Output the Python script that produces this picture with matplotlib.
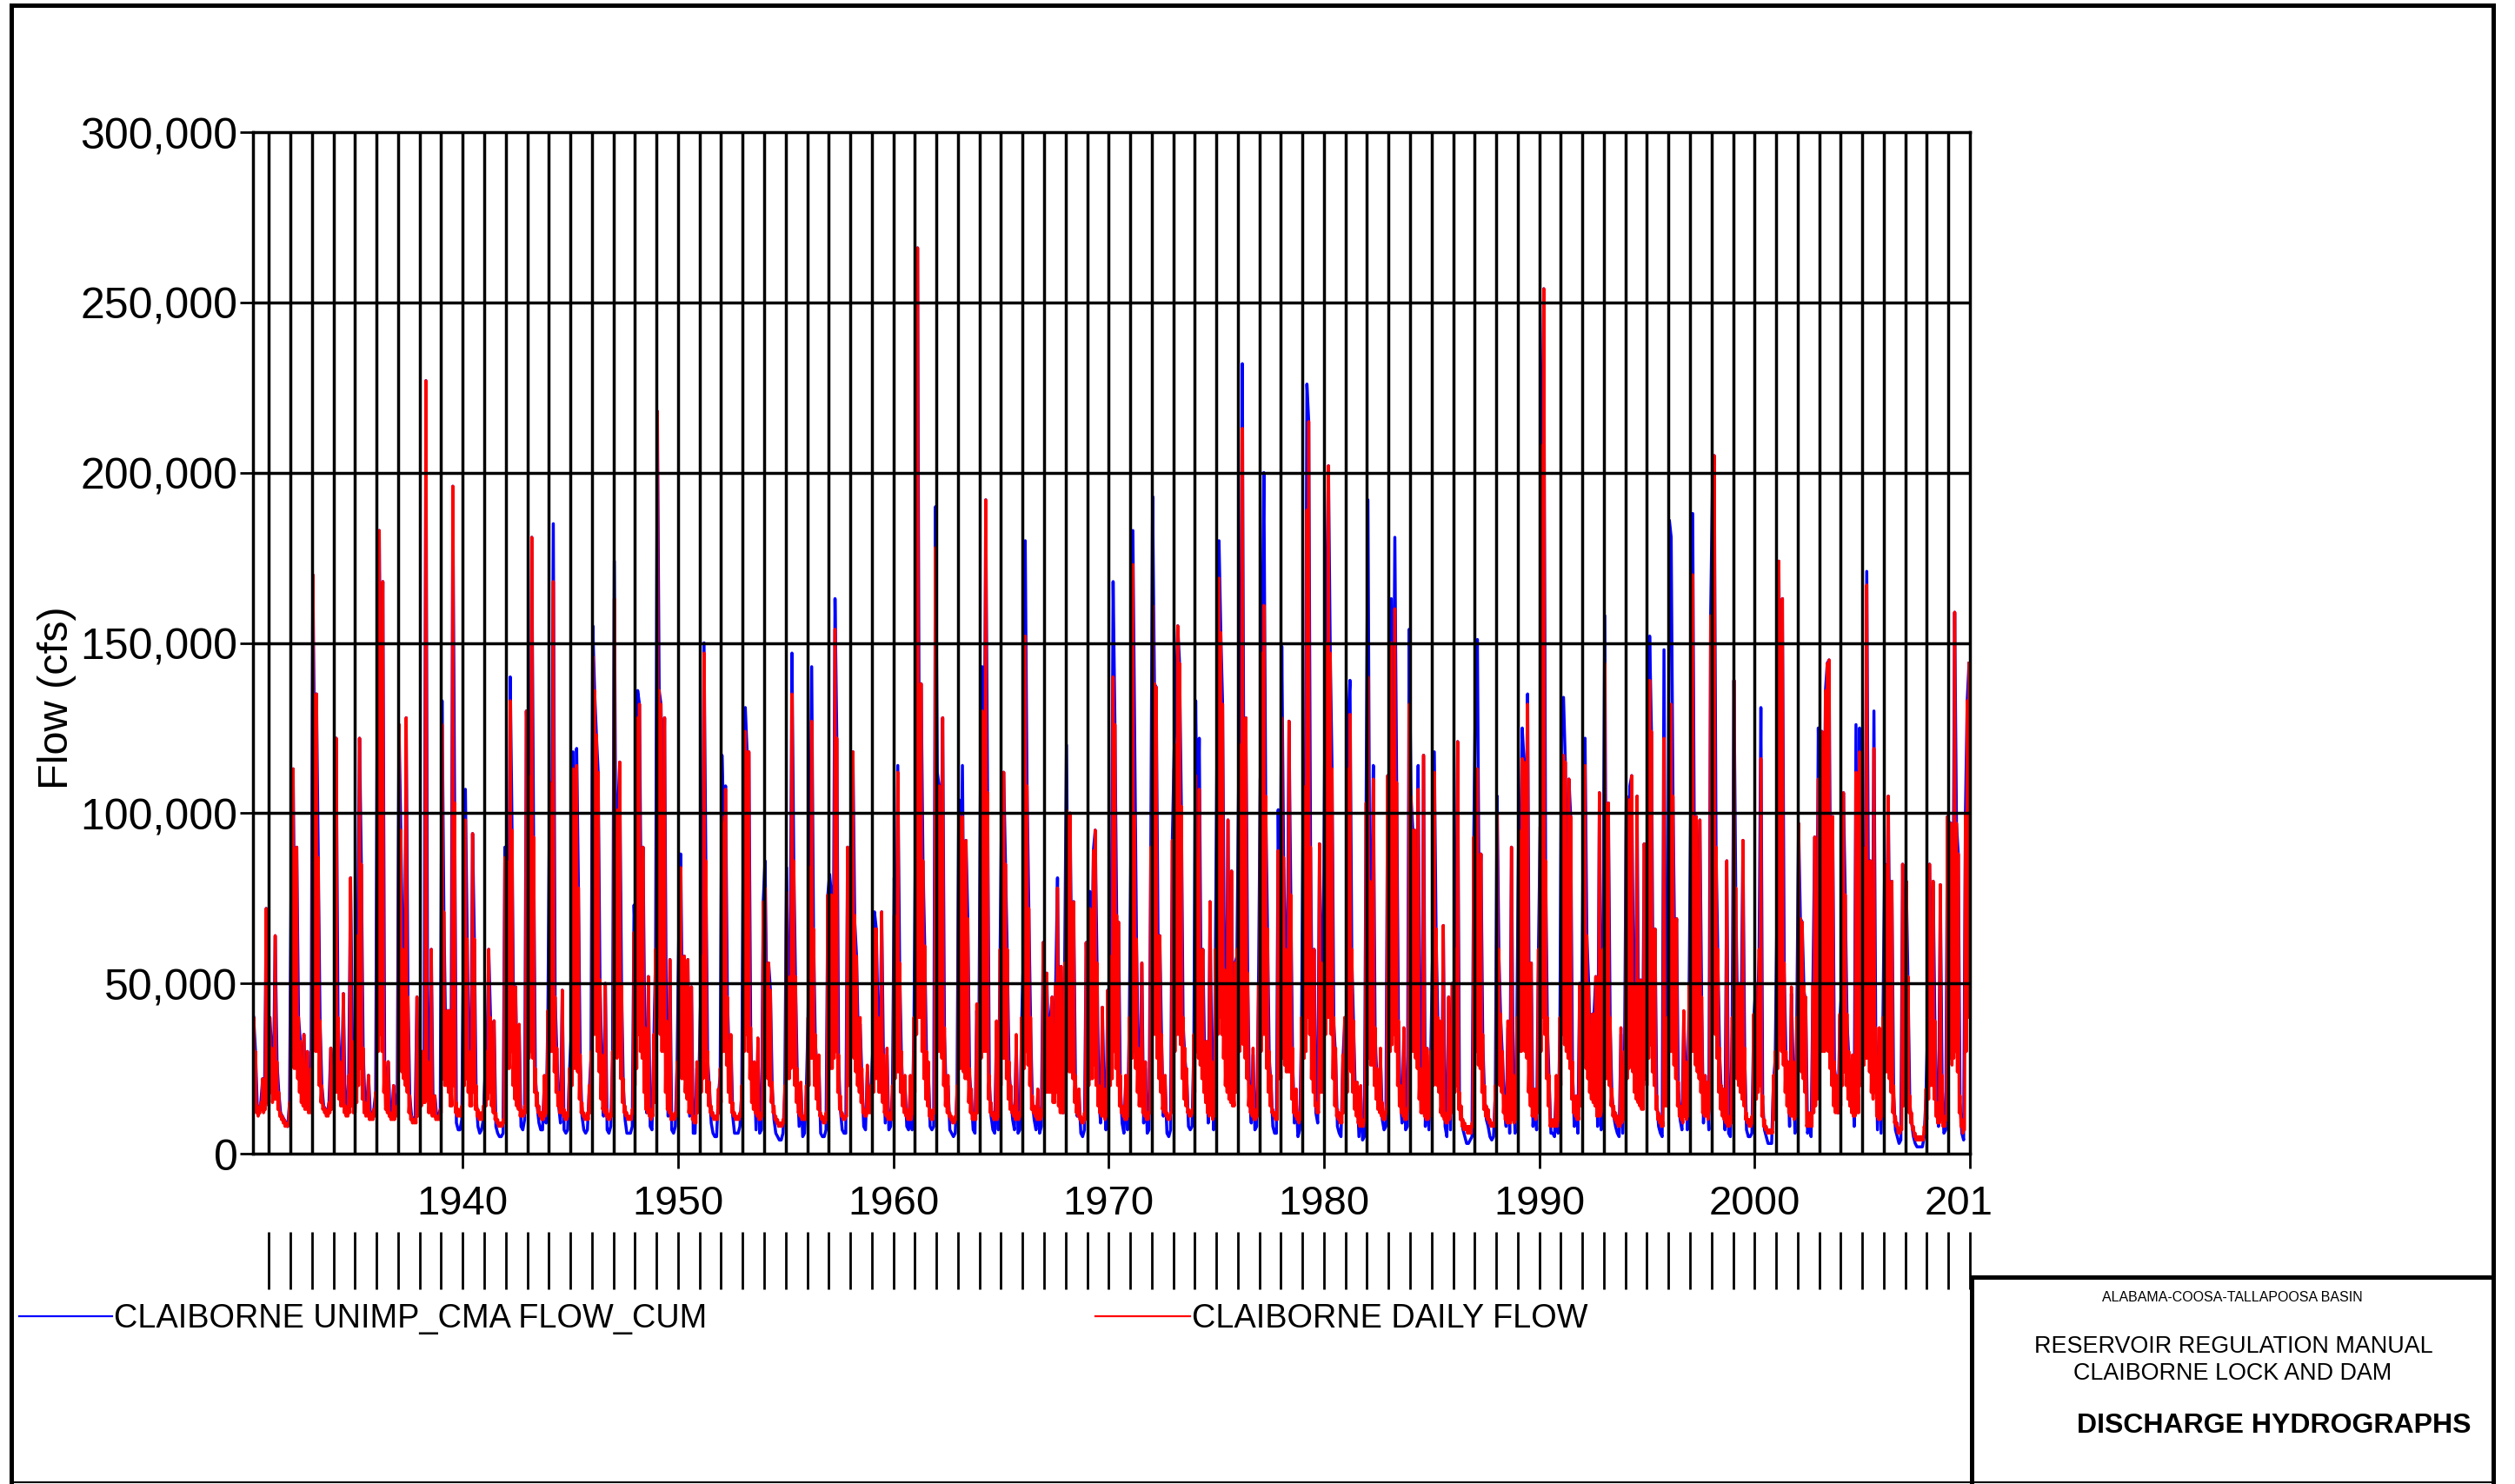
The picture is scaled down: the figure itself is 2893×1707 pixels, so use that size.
import matplotlib
matplotlib.use("Agg")
import matplotlib.pyplot as plt
import numpy as np
from matplotlib.transforms import Bbox, TransformedBbox
from matplotlib.lines import Line2D

plt.rcParams['font.family'] = ['Liberation Sans', 'DejaVu Sans']

# ---------------- data, thousands of cfs ----------------
first_year = 1930
first_month_index = 3  # record begins in April 1930

# monthly peak of CLAIBORNE DAILY FLOW
red_peak_kcfs = [
    [40, 30, 14, 12, 15, 22, 13, 72, 20],
    [40, 31, 20, 64, 27, 18, 12, 11, 10, 9, 8, 15],
    [88, 113, 55, 90, 40, 33, 20, 35, 15, 30, 14, 25],
    [170, 115, 135, 87, 39, 20, 14, 13, 12, 15, 31, 18],
    [31, 122, 40, 27, 20, 47, 14, 12, 23, 81, 33, 14],
    [20, 64, 122, 85, 31, 15, 13, 23, 12, 11, 13, 18],
    [146, 183, 115, 168, 27, 15, 27, 12, 11, 20, 12, 14],
    [126, 95, 60, 40, 128, 46, 17, 11, 10, 10, 46, 15],
    [25, 30, 27, 227, 27, 15, 60, 13, 17, 11, 11, 13],
    [126, 71, 35, 42, 42, 20, 196, 103, 15, 13, 13, 14],
    [63, 98, 63, 30, 20, 94, 63, 20, 13, 12, 12, 14],
    [25, 30, 60, 40, 20, 39, 12, 10, 9, 9, 10, 87],
    [86, 50, 133, 95, 30, 49, 20, 38, 13, 12, 14, 130],
    [111, 60, 181, 93, 25, 18, 14, 12, 12, 23, 13, 42],
    [109, 76, 168, 46, 31, 18, 14, 48, 13, 12, 12, 25],
    [35, 113, 60, 114, 78, 29, 15, 12, 11, 12, 20, 30],
    [146, 136, 123, 112, 51, 29, 15, 50, 13, 11, 12, 30],
    [163, 70, 101, 115, 50, 22, 14, 12, 11, 11, 13, 65],
    [60, 128, 132, 70, 90, 37, 16, 52, 13, 12, 35, 60],
    [218, 136, 132, 97, 128, 39, 15, 57, 12, 11, 12, 27],
    [67, 84, 40, 58, 25, 57, 15, 49, 11, 10, 27, 20],
    [43, 58, 147, 86, 30, 21, 14, 12, 11, 11, 19, 25],
    [99, 97, 107, 46, 30, 35, 15, 12, 11, 11, 12, 20],
    [100, 124, 118, 118, 37, 20, 27, 13, 34, 11, 12, 74],
    [78, 45, 56, 48, 21, 14, 11, 10, 9, 9, 10, 20],
    [77, 40, 52, 135, 86, 52, 25, 13, 21, 11, 11, 20],
    [40, 84, 127, 66, 35, 27, 29, 12, 11, 10, 12, 76],
    [76, 76, 50, 154, 122, 29, 17, 12, 11, 11, 90, 40],
    [91, 118, 70, 58, 35, 40, 25, 13, 12, 26, 17, 20],
    [30, 66, 66, 40, 30, 71, 29, 14, 31, 12, 12, 20],
    [70, 50, 112, 56, 30, 20, 23, 13, 12, 23, 12, 40],
    [103, 266, 100, 138, 86, 61, 30, 27, 13, 12, 13, 178],
    [97, 108, 80, 128, 37, 20, 23, 12, 11, 10, 11, 20],
    [100, 60, 99, 50, 92, 69, 25, 19, 12, 11, 44, 20],
    [80, 130, 90, 192, 106, 23, 15, 12, 11, 39, 12, 60],
    [84, 112, 85, 60, 27, 20, 14, 12, 35, 11, 12, 40],
    [60, 152, 108, 72, 40, 17, 14, 12, 19, 12, 13, 62],
    [40, 53, 30, 40, 46, 25, 50, 78, 20, 55, 15, 56],
    [101, 60, 100, 50, 74, 23, 15, 19, 11, 10, 12, 62],
    [40, 72, 50, 89, 95, 56, 20, 14, 43, 19, 12, 48],
    [45, 58, 140, 126, 70, 68, 23, 14, 12, 23, 12, 40],
    [95, 173, 100, 63, 31, 20, 56, 14, 27, 12, 12, 90],
    [161, 138, 137, 64, 64, 35, 15, 23, 12, 11, 12, 92],
    [113, 120, 155, 144, 102, 40, 31, 25, 13, 12, 13, 35],
    [111, 86, 107, 50, 60, 30, 33, 14, 74, 27, 12, 60],
    [127, 169, 153, 132, 54, 30, 98, 20, 83, 18, 56, 60],
    [112, 120, 213, 80, 128, 53, 20, 14, 31, 12, 13, 50],
    [110, 147, 161, 105, 66, 30, 23, 13, 12, 12, 89, 50],
    [128, 87, 60, 50, 127, 76, 31, 14, 19, 11, 12, 40],
    [108, 80, 189, 215, 90, 40, 60, 15, 13, 91, 56, 50],
    [125, 150, 202, 147, 113, 40, 31, 13, 12, 11, 29, 40],
    [40, 113, 129, 60, 39, 20, 21, 10, 20, 9, 10, 103],
    [140, 80, 66, 110, 37, 25, 18, 31, 15, 12, 12, 111],
    [90, 150, 100, 160, 109, 39, 20, 14, 37, 12, 13, 132],
    [105, 95, 95, 60, 107, 25, 15, 117, 13, 31, 12, 30],
    [60, 112, 66, 40, 39, 15, 67, 12, 10, 46, 12, 50],
    [40, 60, 121, 18, 14, 10, 9, 8, 8, 8, 9, 93],
    [110, 113, 70, 88, 35, 20, 14, 13, 10, 9, 9, 20],
    [100, 60, 41, 30, 17, 12, 39, 11, 90, 23, 11, 40],
    [95, 89, 116, 115, 89, 132, 30, 56, 13, 19, 12, 60],
    [96, 208, 254, 86, 40, 23, 9, 10, 9, 23, 10, 40],
    [112, 117, 115, 60, 110, 99, 27, 13, 17, 11, 50, 30],
    [95, 114, 64, 50, 30, 41, 41, 52, 13, 106, 12, 60],
    [144, 37, 103, 40, 19, 14, 12, 11, 10, 37, 11, 30],
    [105, 60, 104, 111, 50, 30, 105, 20, 51, 23, 91, 78],
    [91, 139, 124, 40, 66, 17, 12, 11, 10, 122, 30, 40],
    [130, 132, 105, 60, 69, 21, 14, 12, 42, 27, 12, 50],
    [109, 170, 80, 99, 60, 98, 46, 14, 23, 21, 12, 158],
    [160, 205, 90, 60, 31, 20, 19, 12, 86, 11, 10, 40],
    [139, 78, 41, 50, 39, 92, 31, 12, 10, 10, 11, 41],
    [50, 43, 60, 116, 17, 10, 8, 7, 7, 7, 23, 30],
    [72, 174, 100, 163, 56, 30, 27, 13, 49, 27, 11, 40],
    [97, 69, 68, 50, 46, 9, 12, 10, 50, 93, 40, 110],
    [95, 124, 80, 136, 144, 145, 60, 99, 27, 23, 15, 41],
    [50, 106, 76, 41, 30, 27, 29, 13, 112, 20, 118, 60],
    [90, 60, 167, 70, 86, 30, 119, 37, 12, 37, 11, 40],
    [85, 60, 105, 50, 80, 20, 11, 9, 7, 8, 85, 40],
    [80, 52, 17, 12, 8, 6, 5, 5, 5, 5, 8, 19],
    [40, 85, 50, 80, 39, 15, 11, 79, 23, 10, 11, 99],
    [97, 97, 60, 159, 97, 88, 17, 10, 7, 100, 133, 144],
]

# monthly low of CLAIBORNE DAILY FLOW (troughs between the spikes)
red_low_kcfs = [
    [20, 15, 12, 11, 12, 13, 12, 13, 15],
    [14, 18, 15, 16, 16, 13, 11, 10, 9, 8, 8, 9],
    [15, 30, 25, 25, 22, 18, 15, 14, 13, 13, 12, 12],
    [18, 35, 30, 30, 20, 15, 13, 12, 11, 11, 12, 13],
    [14, 18, 18, 16, 14, 14, 12, 11, 11, 12, 14, 12],
    [12, 15, 20, 25, 16, 12, 11, 11, 10, 10, 10, 11],
    [14, 30, 35, 30, 18, 13, 12, 11, 10, 10, 10, 11],
    [13, 28, 24, 22, 20, 18, 12, 10, 9, 9, 9, 11],
    [12, 14, 15, 15, 16, 12, 12, 11, 11, 10, 10, 10],
    [12, 22, 20, 20, 18, 14, 14, 20, 12, 11, 11, 11],
    [12, 20, 22, 18, 14, 14, 18, 13, 11, 10, 10, 10],
    [11, 14, 16, 18, 14, 12, 10, 9, 8, 8, 8, 9],
    [20, 25, 25, 30, 20, 16, 14, 13, 11, 11, 11, 12],
    [30, 28, 30, 28, 18, 14, 12, 11, 10, 10, 11, 12],
    [25, 30, 30, 24, 18, 14, 12, 12, 11, 10, 10, 11],
    [15, 20, 25, 25, 24, 16, 12, 11, 10, 10, 10, 12],
    [18, 35, 35, 30, 24, 16, 13, 12, 11, 10, 10, 11],
    [18, 30, 28, 30, 22, 15, 12, 11, 10, 10, 10, 12],
    [20, 25, 35, 30, 28, 18, 13, 12, 11, 10, 11, 15],
    [20, 40, 35, 30, 30, 18, 13, 12, 10, 10, 10, 11],
    [15, 25, 22, 22, 18, 16, 12, 12, 10, 9, 9, 12],
    [14, 18, 22, 28, 18, 14, 12, 11, 10, 10, 10, 12],
    [15, 30, 30, 26, 18, 15, 12, 11, 10, 10, 10, 11],
    [14, 30, 35, 30, 22, 15, 13, 12, 11, 10, 10, 11],
    [20, 25, 22, 20, 15, 12, 10, 9, 8, 8, 8, 9],
    [12, 22, 22, 25, 30, 20, 15, 12, 11, 10, 10, 10],
    [12, 20, 28, 28, 20, 16, 13, 11, 10, 9, 9, 10],
    [22, 25, 25, 28, 30, 18, 13, 11, 10, 10, 11, 20],
    [20, 30, 28, 24, 20, 18, 15, 12, 11, 11, 12, 12],
    [12, 18, 22, 22, 18, 18, 15, 12, 11, 10, 10, 10],
    [14, 22, 24, 24, 18, 14, 12, 11, 10, 10, 10, 12],
    [18, 35, 40, 40, 30, 22, 16, 14, 11, 10, 10, 12],
    [30, 30, 30, 28, 20, 14, 12, 11, 10, 9, 9, 10],
    [14, 25, 25, 24, 22, 22, 15, 12, 10, 10, 10, 12],
    [14, 28, 30, 30, 30, 16, 12, 11, 10, 10, 10, 11],
    [20, 28, 28, 22, 16, 13, 12, 11, 10, 10, 10, 11],
    [15, 25, 30, 26, 20, 13, 12, 11, 10, 10, 10, 11],
    [18, 18, 18, 18, 18, 15, 15, 18, 14, 12, 12, 12],
    [20, 25, 24, 24, 22, 15, 12, 11, 10, 9, 9, 10],
    [18, 20, 22, 22, 26, 20, 14, 12, 11, 11, 10, 11],
    [16, 20, 22, 30, 25, 20, 14, 12, 11, 10, 10, 11],
    [14, 28, 30, 25, 18, 14, 14, 12, 11, 10, 10, 12],
    [25, 35, 35, 28, 22, 18, 13, 12, 11, 10, 10, 12],
    [28, 30, 35, 35, 32, 22, 16, 14, 12, 11, 11, 12],
    [18, 30, 28, 26, 22, 18, 15, 12, 11, 12, 10, 11],
    [20, 35, 40, 35, 28, 20, 18, 16, 15, 14, 14, 18],
    [22, 30, 35, 32, 28, 22, 14, 12, 11, 10, 10, 11],
    [18, 30, 35, 35, 25, 18, 14, 12, 11, 10, 10, 22],
    [22, 28, 26, 24, 24, 24, 16, 12, 11, 10, 9, 10],
    [14, 28, 30, 40, 35, 22, 18, 14, 12, 12, 18, 18],
    [18, 35, 40, 40, 35, 22, 14, 11, 10, 9, 9, 12],
    [14, 18, 25, 24, 18, 13, 11, 9, 8, 8, 8, 10],
    [20, 28, 26, 26, 20, 16, 13, 12, 11, 10, 10, 15],
    [25, 30, 32, 35, 30, 20, 14, 12, 11, 10, 10, 14],
    [30, 30, 30, 28, 25, 16, 12, 12, 11, 10, 10, 11],
    [14, 20, 24, 20, 18, 12, 11, 10, 9, 9, 10, 12],
    [15, 18, 20, 13, 10, 8, 7, 7, 6, 6, 6, 8],
    [25, 30, 26, 25, 18, 13, 11, 10, 9, 8, 8, 8],
    [14, 22, 20, 18, 12, 10, 9, 9, 9, 10, 9, 10],
    [15, 30, 30, 32, 30, 28, 18, 14, 11, 11, 10, 12],
    [25, 30, 40, 35, 22, 14, 8, 8, 8, 8, 8, 10],
    [20, 35, 32, 30, 28, 25, 16, 12, 11, 10, 10, 14],
    [18, 28, 25, 22, 18, 16, 15, 14, 11, 11, 11, 14],
    [20, 22, 22, 20, 14, 11, 10, 9, 8, 8, 9, 10],
    [14, 22, 25, 28, 24, 18, 16, 15, 14, 13, 13, 22],
    [20, 28, 32, 24, 20, 13, 10, 9, 8, 8, 14, 14],
    [16, 30, 30, 26, 22, 14, 11, 10, 9, 11, 10, 11],
    [18, 30, 30, 26, 24, 22, 18, 12, 11, 11, 10, 14],
    [35, 40, 35, 28, 18, 13, 11, 10, 9, 8, 8, 9],
    [14, 25, 22, 20, 18, 16, 14, 10, 9, 8, 8, 9],
    [14, 16, 18, 20, 11, 8, 7, 6, 6, 6, 6, 10],
    [14, 25, 35, 30, 26, 18, 14, 12, 11, 11, 10, 11],
    [18, 25, 24, 22, 18, 8, 8, 8, 8, 12, 14, 16],
    [30, 30, 30, 30, 32, 30, 25, 20, 14, 12, 12, 12],
    [14, 20, 24, 20, 16, 14, 12, 11, 11, 12, 12, 20],
    [25, 26, 28, 28, 24, 18, 16, 18, 11, 10, 10, 11],
    [14, 24, 24, 22, 18, 12, 9, 8, 6, 6, 7, 14],
    [18, 16, 12, 9, 7, 5, 4, 4, 4, 4, 4, 6],
    [10, 16, 20, 20, 16, 11, 9, 9, 10, 8, 8, 10],
    [25, 28, 26, 28, 30, 24, 12, 8, 6, 7, 30, 40],
]

# monthly values of CLAIBORNE UNIMP_CMA FLOW_CUM
blue_unimpaired_kcfs = [
    [40, 30, 14, 12, 15, 22, 13, 72, 20],
    [40, 31, 20, 64, 27, 18, 12, 11, 10, 9, 8, 15],
    [88, 113, 55, 90, 40, 33, 20, 35, 15, 30, 14, 25],
    [170, 115, 135, 87, 39, 20, 14, 13, 12, 15, 31, 18],
    [31, 122, 40, 27, 20, 47, 14, 12, 23, 81, 33, 14],
    [20, 64, 122, 85, 31, 15, 13, 23, 12, 11, 13, 18],
    [146, 183, 115, 168, 27, 15, 27, 12, 11, 20, 12, 14],
    [126, 95, 60, 40, 128, 46, 17, 11, 10, 10, 46, 15],
    [25, 30, 27, 227, 27, 15, 60, 13, 17, 11, 11, 13],
    [133, 71, 35, 42, 42, 18, 196, 103, 9, 7, 7, 10],
    [63, 107, 63, 28, 17, 94, 63, 17, 8, 6, 7, 10],
    [24, 28, 60, 40, 18, 39, 8, 6, 5, 5, 6, 90],
    [86, 48, 140, 95, 28, 49, 16, 36, 8, 7, 10, 130],
    [111, 58, 181, 93, 23, 14, 9, 7, 7, 21, 9, 42],
    [109, 76, 185, 46, 29, 14, 9, 48, 7, 6, 7, 24],
    [35, 118, 58, 119, 78, 27, 11, 7, 6, 7, 18, 28],
    [155, 136, 123, 112, 51, 27, 11, 50, 7, 6, 8, 28],
    [174, 68, 101, 115, 50, 20, 10, 6, 6, 6, 8, 73],
    [58, 136, 132, 70, 90, 35, 12, 52, 8, 7, 33, 58],
    [218, 136, 132, 97, 128, 37, 11, 57, 7, 6, 8, 27],
    [67, 88, 38, 58, 22, 57, 11, 49, 6, 6, 25, 18],
    [43, 58, 150, 86, 28, 19, 9, 6, 5, 5, 17, 23],
    [117, 97, 108, 46, 28, 33, 11, 6, 6, 6, 8, 18],
    [100, 131, 118, 118, 35, 16, 25, 7, 32, 6, 7, 74],
    [86, 43, 56, 48, 19, 10, 6, 5, 4, 4, 6, 18],
    [84, 38, 52, 147, 86, 50, 22, 8, 19, 5, 6, 18],
    [40, 84, 143, 66, 33, 25, 27, 6, 5, 5, 7, 76],
    [82, 76, 48, 163, 122, 27, 13, 7, 6, 6, 90, 40],
    [104, 118, 68, 58, 33, 38, 22, 8, 7, 24, 14, 18],
    [30, 71, 66, 38, 28, 71, 27, 9, 29, 7, 8, 18],
    [81, 48, 114, 56, 28, 17, 20, 8, 7, 21, 7, 38],
    [103, 266, 100, 138, 86, 61, 28, 25, 8, 7, 8, 190],
    [112, 108, 78, 128, 35, 17, 20, 7, 6, 5, 6, 18],
    [104, 58, 114, 50, 92, 69, 23, 16, 7, 6, 42, 18],
    [106, 143, 88, 192, 106, 21, 11, 7, 6, 37, 7, 58],
    [110, 112, 85, 58, 25, 17, 10, 7, 33, 6, 7, 38],
    [58, 180, 108, 72, 38, 15, 10, 7, 17, 6, 8, 62],
    [40, 53, 28, 40, 46, 23, 50, 81, 16, 55, 12, 56],
    [120, 58, 100, 50, 74, 21, 11, 17, 6, 5, 7, 62],
    [40, 77, 48, 89, 95, 56, 17, 9, 43, 17, 7, 48],
    [45, 58, 168, 126, 68, 68, 21, 9, 6, 21, 7, 38],
    [95, 183, 122, 63, 29, 17, 56, 9, 25, 6, 7, 90],
    [193, 138, 137, 64, 64, 33, 11, 20, 6, 5, 7, 92],
    [118, 135, 155, 144, 102, 38, 28, 22, 8, 7, 8, 33],
    [133, 86, 122, 48, 60, 28, 31, 9, 74, 25, 7, 58],
    [127, 180, 153, 132, 54, 28, 98, 18, 83, 15, 56, 58],
    [112, 132, 232, 80, 128, 51, 17, 9, 29, 7, 8, 48],
    [110, 147, 200, 105, 66, 28, 20, 8, 6, 6, 101, 48],
    [149, 87, 58, 48, 127, 76, 28, 9, 16, 5, 7, 38],
    [108, 78, 226, 215, 90, 38, 60, 12, 9, 91, 56, 48],
    [125, 166, 202, 147, 113, 38, 28, 8, 6, 5, 27, 38],
    [40, 128, 139, 58, 37, 17, 18, 5, 17, 4, 5, 103],
    [192, 78, 64, 114, 35, 22, 14, 29, 10, 7, 8, 111],
    [90, 163, 98, 181, 109, 37, 17, 9, 35, 7, 8, 154],
    [105, 95, 95, 58, 114, 23, 12, 117, 8, 29, 7, 28],
    [58, 118, 64, 38, 37, 12, 67, 8, 5, 46, 7, 50],
    [38, 58, 121, 16, 11, 7, 5, 3, 3, 4, 5, 93],
    [139, 151, 68, 88, 33, 17, 10, 8, 5, 4, 5, 18],
    [105, 58, 39, 28, 15, 8, 37, 6, 90, 21, 6, 38],
    [95, 89, 125, 115, 89, 135, 28, 56, 8, 17, 7, 58],
    [96, 208, 254, 86, 38, 21, 6, 6, 5, 21, 6, 38],
    [133, 134, 115, 58, 110, 99, 25, 8, 15, 6, 50, 28],
    [95, 122, 64, 50, 28, 41, 41, 52, 8, 106, 7, 58],
    [158, 37, 103, 38, 17, 11, 8, 6, 5, 35, 6, 28],
    [105, 58, 108, 111, 48, 28, 105, 17, 51, 21, 91, 78],
    [91, 152, 124, 38, 66, 15, 8, 6, 5, 148, 28, 38],
    [186, 181, 105, 58, 69, 19, 10, 7, 40, 25, 7, 48],
    [109, 188, 78, 99, 58, 98, 44, 9, 21, 19, 7, 158],
    [196, 205, 90, 58, 29, 17, 15, 7, 86, 6, 5, 38],
    [139, 76, 39, 48, 37, 92, 28, 7, 5, 5, 6, 39],
    [48, 41, 58, 131, 15, 7, 5, 3, 3, 3, 21, 28],
    [72, 174, 98, 163, 54, 28, 24, 8, 47, 25, 6, 38],
    [97, 69, 68, 48, 44, 6, 8, 5, 48, 93, 38, 125],
    [95, 124, 78, 136, 144, 145, 58, 99, 25, 21, 12, 39],
    [48, 106, 76, 39, 28, 25, 27, 8, 126, 18, 125, 58],
    [90, 58, 171, 68, 86, 28, 130, 35, 7, 35, 6, 38],
    [85, 58, 105, 48, 80, 17, 7, 5, 3, 4, 85, 38],
    [80, 50, 15, 9, 5, 3, 2, 2, 2, 2, 5, 17],
    [38, 85, 48, 80, 37, 12, 8, 79, 20, 6, 7, 99],
    [97, 97, 58, 159, 97, 88, 15, 6, 4, 100, 133, 144],
]

y_ticks = [0, 50000, 100000, 150000, 200000, 250000, 300000]
x_ticks = [1940, 1950, 1960, 1970, 1980, 1990, 2000, 2010]
x_tick_labels = ["1940", "1950", "1960", "1970", "1980", "1990", "2000", "2010"]
legend_labels = ["CLAIBORNE UNIMP_CMA FLOW_CUM", "CLAIBORNE DAILY FLOW"]
title_lines = ["ALABAMA-COOSA-TALLAPOOSA BASIN", "RESERVOIR REGULATION MANUAL",
               "CLAIBORNE LOCK AND DAM", "DISCHARGE HYDROGRAPHS"]


def red_series(peaks, lows):
    t, v = [], []
    for i, (prow, lrow) in enumerate(zip(peaks, lows)):
        yr = first_year + i
        start = first_month_index if i == 0 else 0
        for j, (pk, lo) in enumerate(zip(prow, lrow)):
            t.append(yr + (start + j) / 12.0)
            v.append(lo * 1000.0)
            t.append(yr + (start + j + 0.5) / 12.0)
            v.append(pk * 1000.0)
    return np.array(t), np.array(v)


def blue_series(rows):
    t, v = [], []
    for i, row in enumerate(rows):
        yr = first_year + i
        start = first_month_index if i == 0 else 0
        for j, val in enumerate(row):
            t.append(yr + (start + j + 0.5) / 12.0)
            v.append(val * 1000.0)
    return np.array(t), np.array(v)


t_red, v_red = red_series(red_peak_kcfs, red_low_kcfs)
t_blue, v_blue = blue_series(blue_unimpaired_kcfs)

# ---------------- figure ----------------
W, H = 2893, 1708
fig = plt.figure(figsize=(W / 100, H / 100), dpi=100)


def fx(px):
    return px / W


def fy(py):
    return 1 - py / H


L, R, T, B = 291, 2266, 153, 1328
ax = fig.add_axes([fx(L), fy(B), fx(R) - fx(L), fy(T) - fy(B)])
ax.plot(t_blue, v_blue, color='#0000ff', lw=2.5, zorder=2)
ax.plot(t_red, v_red, color='#ff0000', lw=2.5, zorder=3)
xmin, xmax = 1930.26, 2010.0
ax.set_xlim(xmin, xmax)
ax.set_ylim(0, 300000)

for yr in range(1931, 2010):
    ax.axvline(yr, color='black', lw=2.5, zorder=4)
for yv in y_ticks[1:-1]:
    ax.axhline(yv, color='black', lw=2.5, zorder=4)
for s in ax.spines.values():
    s.set_linewidth(2.5)
    s.set_zorder(5)

ax.set_yticks(y_ticks)
ax.set_yticklabels([f"{v:,}" for v in y_ticks])
ax.set_xticks(x_ticks)
ax.set_xticklabels(x_tick_labels)
ax.tick_params(axis='y', direction='out', length=11, width=2, pad=1.5, labelsize=36)
ax.tick_params(axis='x', direction='out', length=12, width=2, pad=13, labelsize=34)

last = ax.xaxis.get_major_ticks()[-1].label1
last.set_clip_on(True)
last.set_clip_box(TransformedBbox(Bbox.from_extents(0, 0, fx(2290), 1), fig.transFigure))

# yearly tick band below the axis
axb = fig.add_axes([fx(L), fy(1484), fx(R) - fx(L), fy(1418) - fy(1484)])
axb.set_xlim(xmin, xmax)
axb.set_ylim(0, 1)
axb.vlines(list(range(1931, 2011)), 0, 1, color='black', lw=2.0, clip_on=False)
axb.axis('off')

fig.text(fx(65), fy(803), "Flow (cfs)", rotation=90, fontsize=35, ha='center', va='center')

# legend
fig.add_artist(Line2D([fx(22), fx(129)], [fy(1515), fy(1515)], color='#0000ff', lw=1.6))
fig.text(fx(131), fy(1527), legend_labels[0], fontsize=27.3, ha='left', va='baseline')
fig.add_artist(Line2D([fx(1260), fx(1369)], [fy(1515), fy(1515)], color='#ff0000', lw=1.6))
fig.text(fx(1371), fy(1527), legend_labels[1], fontsize=27.3, ha='left', va='baseline')

# frame and title block
frame_lw = 3.6
for (x0, y0, x1, y1) in [(13, 7, 2868, 7), (13, 7, 13, 1708), (2868, 7, 2868, 1708),
                         (13, 1706, 2868, 1706), (2268, 1470, 2868, 1470), (2268, 1470, 2268, 1708)]:
    fig.add_artist(Line2D([fx(x0), fx(x1)], [fy(y0), fy(y1)], color='black',
                          lw=(frame_lw if y0 != 1706 else 1.5), solid_capstyle='projecting'))

fig.text(fx(2568), fy(1497), title_lines[0], fontsize=11.5, ha='center', va='baseline')
fig.text(fx(2569), fy(1556), title_lines[1], fontsize=19.4, ha='center', va='baseline')
fig.text(fx(2568), fy(1587), title_lines[2], fontsize=19.4, ha='center', va='baseline')
fig.text(fx(2616), fy(1648), title_lines[3], fontsize=23, ha='center', va='baseline', fontweight='bold')

fig.savefig("out.png", dpi=100)
